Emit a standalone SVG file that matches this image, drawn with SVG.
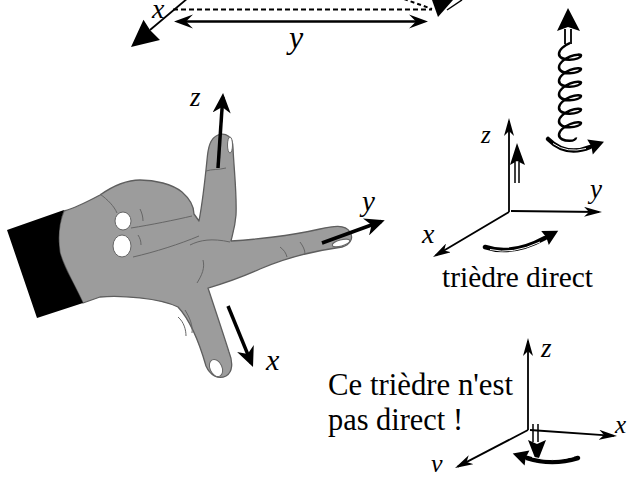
<svg xmlns="http://www.w3.org/2000/svg" width="632" height="477" viewBox="0 0 632 477">
  <defs>
    <style>
      .lbl { font-style: italic; fill: #000; }
      .ax { stroke: #000; stroke-width: 1.8; fill: none; }
      .thin { stroke: #000; stroke-width: 1.5; fill: none; }
      .thick { stroke: #000; stroke-width: 4.5; fill: none; stroke-linecap: round; }
      .inner { stroke: #fff; stroke-width: 1; fill: none; }
      .skin { fill: #9c9c9c; stroke: #5e5e5e; stroke-width: 1.3; stroke-linejoin: round; }
      .crease { fill: none; stroke: #666; stroke-width: 1; }
      .nail { fill: #fff; stroke: #666; stroke-width: 1; }
      .head { fill: #000; }
    </style>
    <!-- bold stealth head used on the finger vectors -->
    <marker id="hand-head" viewBox="0 0 20 18" markerUnits="userSpaceOnUse" markerWidth="20" markerHeight="18" refX="16" refY="9" orient="auto">
      <path d="M0,0 L20,9 L0,18 L6,9 Z" fill="#000"/>
    </marker>
    <!-- narrow head used on the trihedron axes -->
    <marker id="axis-head" viewBox="0 0 18 10" markerUnits="userSpaceOnUse" markerWidth="18" markerHeight="10" refX="15" refY="5" orient="auto">
      <path d="M0,0 L18,5 L0,10 L5,5 Z" fill="#000"/>
    </marker>
  </defs>

  <rect width="632" height="477" fill="#fff"/>

  <g font-family="'Liberation Serif', serif">
  <!-- top: box edge with its width y and the x direction -->
  <g id="top-frame">
    <path d="M173,9.5 H432" stroke="#000" stroke-width="2" stroke-dasharray="5,3" fill="none"/>
    <path d="M404,-1 L432,9" stroke="#000" stroke-width="2" stroke-dasharray="4,3" fill="none"/>
    <path d="M188,-2 L150,30" class="ax"/>
    <path class="head" d="M131,47 L143.5,19.8 L150,30 L160,40 Z"/>
    <path d="M182,21.5 H420" stroke="#000" stroke-width="2.5"/>
    <path class="head" d="M174,21.5 L193,14.5 L186,21.5 L193,28.5 Z"/>
    <path class="head" d="M428,21.5 L409,14.5 L416,21.5 L409,28.5 Z"/>
    <path class="head" d="M432,0 L453,0 L438,17 Z"/>
    <path d="M447,10 L462,0" class="thin"/>
    <text class="lbl" x="152" y="18" font-size="28">x</text>
    <text class="lbl" x="289" y="48" font-size="32">y</text>
  </g>

  <!-- hand giving the three directions -->
  <g id="hand">
    <path class="skin" d="M64,211 C75,208 85,203 100,195 C110,188 125,180 140,180 C155,180 172,184 182,192 C190,199 194,206 194,214 L199,221 C202,205 205,180 207,160 C208,148 210,138 218,135 C226,132 233,137 233,148 C234,170 237,195 236,215 C235,228 232,236 231,241 C250,240 290,236 320,229 C333,226 345,224 350,232 C354,238 350,245 342,247 C320,250 290,256 260,269 C240,278 222,284 208,288 C212,300 222,330 229,352 C233,362 233,372 226,376 C218,380 210,375 206,366 C200,345 190,320 178,307 C160,298 120,295 100,297 L83,303 C75,285 65,270 60,253 C58,240 58,225 64,211 Z"/>
    <path fill="#000" d="M7,230 L64,210 C58,225 58,240 60,253 C65,270 75,285 83,303 L37,318 Z"/>
    <!-- curled fingers -->
    <path class="crease" d="M100,194 C108,200 114,206 117,213"/>
    <path class="crease" d="M131,228 C150,225 175,220 192,216"/>
    <path class="crease" d="M133,257 C155,252 180,244 199,236"/>
    <path class="crease" d="M140,209 C142,213 143,217 143,221"/>
    <path class="crease" d="M138,235 C140,238 141,241 141,245"/>
    <ellipse class="nail" cx="123" cy="221" rx="8" ry="9"/>
    <ellipse class="nail" cx="122" cy="246" rx="9" ry="11"/>
    <!-- creases on palm and fingers -->
    <path class="crease" d="M206,171 C212,169 218,170 226,168"/>
    <path class="crease" d="M190,245 C200,240 212,238 230,242"/>
    <path class="crease" d="M197,283 C202,275 205,268 203,260"/>
    <path class="crease" d="M185,310 C190,318 193,326 192,333"/>
    <path class="crease" d="M178,317 C184,322 186,330 186,336"/>
    <path class="crease" d="M280,247 C284,250 286,253 287,257"/>
    <path class="crease" d="M300,242 C303,246 305,250 305,254"/>
    <ellipse class="nail" cx="230" cy="145" rx="2.5" ry="8"/>
    <ellipse class="nail" cx="341" cy="243" rx="9" ry="3" transform="rotate(-15 341 243)"/>
    <ellipse class="nail" cx="216" cy="368" rx="6" ry="9" transform="rotate(-25 216 368)"/>
  </g>

  <g id="hand-vectors">
    <path d="M218,168 L222.8,97" stroke="#000" stroke-width="3.5" marker-end="url(#hand-head)"/>
    <path d="M322,243 L381,221.5" stroke="#000" stroke-width="3.5" marker-end="url(#hand-head)"/>
    <path d="M228,306 L251.5,363.3" stroke="#000" stroke-width="3.5" marker-end="url(#hand-head)"/>
    <text class="lbl" x="190" y="106" font-size="27">z</text>
    <text class="lbl" x="362" y="211" font-size="29">y</text>
    <text class="lbl" x="266" y="370" font-size="30">x</text>
  </g>

  <!-- screw: turning one way makes it climb -->
  <g id="screw">
    <path class="head" d="M568,8 L557,31 L568,27 L580,31 Z"/>
    <path d="M565,29 V44 M571,29 V44" class="ax"/>
    <path fill="none" stroke="#000" stroke-width="2.5" transform="translate(570 90) skewY(-12) translate(-570 -90)" d="M570,43 c-6.05,1.18 -11,4.44 -11,8.37 c0,3.93 4.95,7.2 11,8.38 c6.05,1.18 11,-0.05 11,-1.62 c0,-1.57 -4.95,-2.75 -11,-1.62 c-6.05,1.18 -11,4.44 -11,8.37 c0,3.93 4.95,7.2 11,8.38 c6.05,1.18 11,-0.05 11,-1.62 c0,-1.57 -4.95,-2.75 -11,-1.62 c-6.05,1.18 -11,4.44 -11,8.37 c0,3.93 4.95,7.2 11,8.38 c6.05,1.18 11,-0.05 11,-1.62 c0,-1.57 -4.95,-2.75 -11,-1.62 c-6.05,1.18 -11,4.44 -11,8.37 c0,3.93 4.95,7.2 11,8.38 c6.05,1.18 11,-0.05 11,-1.62 c0,-1.57 -4.95,-2.75 -11,-1.62 c-6.05,1.18 -11,4.44 -11,8.37 c0,3.93 4.95,7.2 11,8.38 c6.05,1.18 11,-0.05 11,-1.62 c0,-1.57 -4.95,-2.75 -11,-1.62 c-6.05,1.18 -11,4.44 -11,8.37 c0,3.93 4.95,7.2 11,8.38 c6.05,1.18 11,-0.05 11,-1.62 c0,-1.57 -4.95,-2.75 -11,-1.62 c-6.05,1.18 -11,4.44 -11,8.37 c0,3.93 4.95,7.2 11,8.38 c4,0.8 6,-0.5 6,-2"/>
    <path class="thick" d="M548,139 Q566,157 590,147"/>
    <path class="inner" d="M553,143.5 Q567,153.5 586,148.5"/>
    <path class="head" d="M604,141.7 L587.2,139.5 L591.4,146.5 L592.8,154.5 Z"/>
  </g>

  <!-- direct trihedron -->
  <g id="direct-trihedron">
    <path class="ax" d="M509,212 V121" marker-end="url(#axis-head)"/>
    <path class="ax" d="M511,211 L599,212" marker-end="url(#axis-head)"/>
    <path class="ax" d="M509,212 L435.6,255.5" marker-end="url(#axis-head)"/>
    <path class="head" d="M517,143 L510,165 L517,161 L525,165 Z"/>
    <path class="thin" d="M515,162 V183 M519,162 V183"/>
    <path class="thick" d="M485,247 Q512,256 545,238"/>
    <path class="inner" d="M490,249.5 Q512,255 540,242"/>
    <path class="head" d="M558.2,230.8 L541.2,231 L546.3,237.3 L548.8,245 Z"/>
    <text class="lbl" x="481" y="143" font-size="25" fill="#333">z</text>
    <text class="lbl" x="590" y="198" font-size="27">y</text>
    <text class="lbl" x="422" y="243" font-size="28">x</text>
    <text x="442" y="287" font-size="30" textLength="151" lengthAdjust="spacingAndGlyphs">trièdre direct</text>
  </g>

  <!-- trihedron that is not direct -->
  <g id="indirect-trihedron">
    <path class="ax" d="M528,430 V341" marker-end="url(#axis-head)"/>
    <path class="ax" d="M530,430 L614,435.8" marker-end="url(#axis-head)"/>
    <path class="ax" d="M528,430 L457.7,466.6" marker-end="url(#axis-head)"/>
    <path class="head" d="M537,463 L528,440 L537,444 L546,440 Z"/>
    <path class="thin" d="M533,424 V442 M538,424 V442"/>
    <path class="thick" d="M578,458 Q552,466 527,458"/>
    <path class="inner" d="M574,456.5 Q552,462.5 532,457"/>
    <path class="head" d="M512.7,453.4 L529.4,450.4 L525.6,458 L524.6,465.6 Z"/>
    <text class="lbl" x="541" y="357" font-size="27">z</text>
    <text class="lbl" x="615" y="433" font-size="25">x</text>
    <text class="lbl" x="431" y="472" font-size="26">v</text>
    <text x="328" y="395" font-size="32" textLength="185" lengthAdjust="spacingAndGlyphs">Ce trièdre n'est</text>
    <text x="328" y="430" font-size="32" textLength="135" lengthAdjust="spacingAndGlyphs">pas direct !</text>
  </g>
  </g>
</svg>
